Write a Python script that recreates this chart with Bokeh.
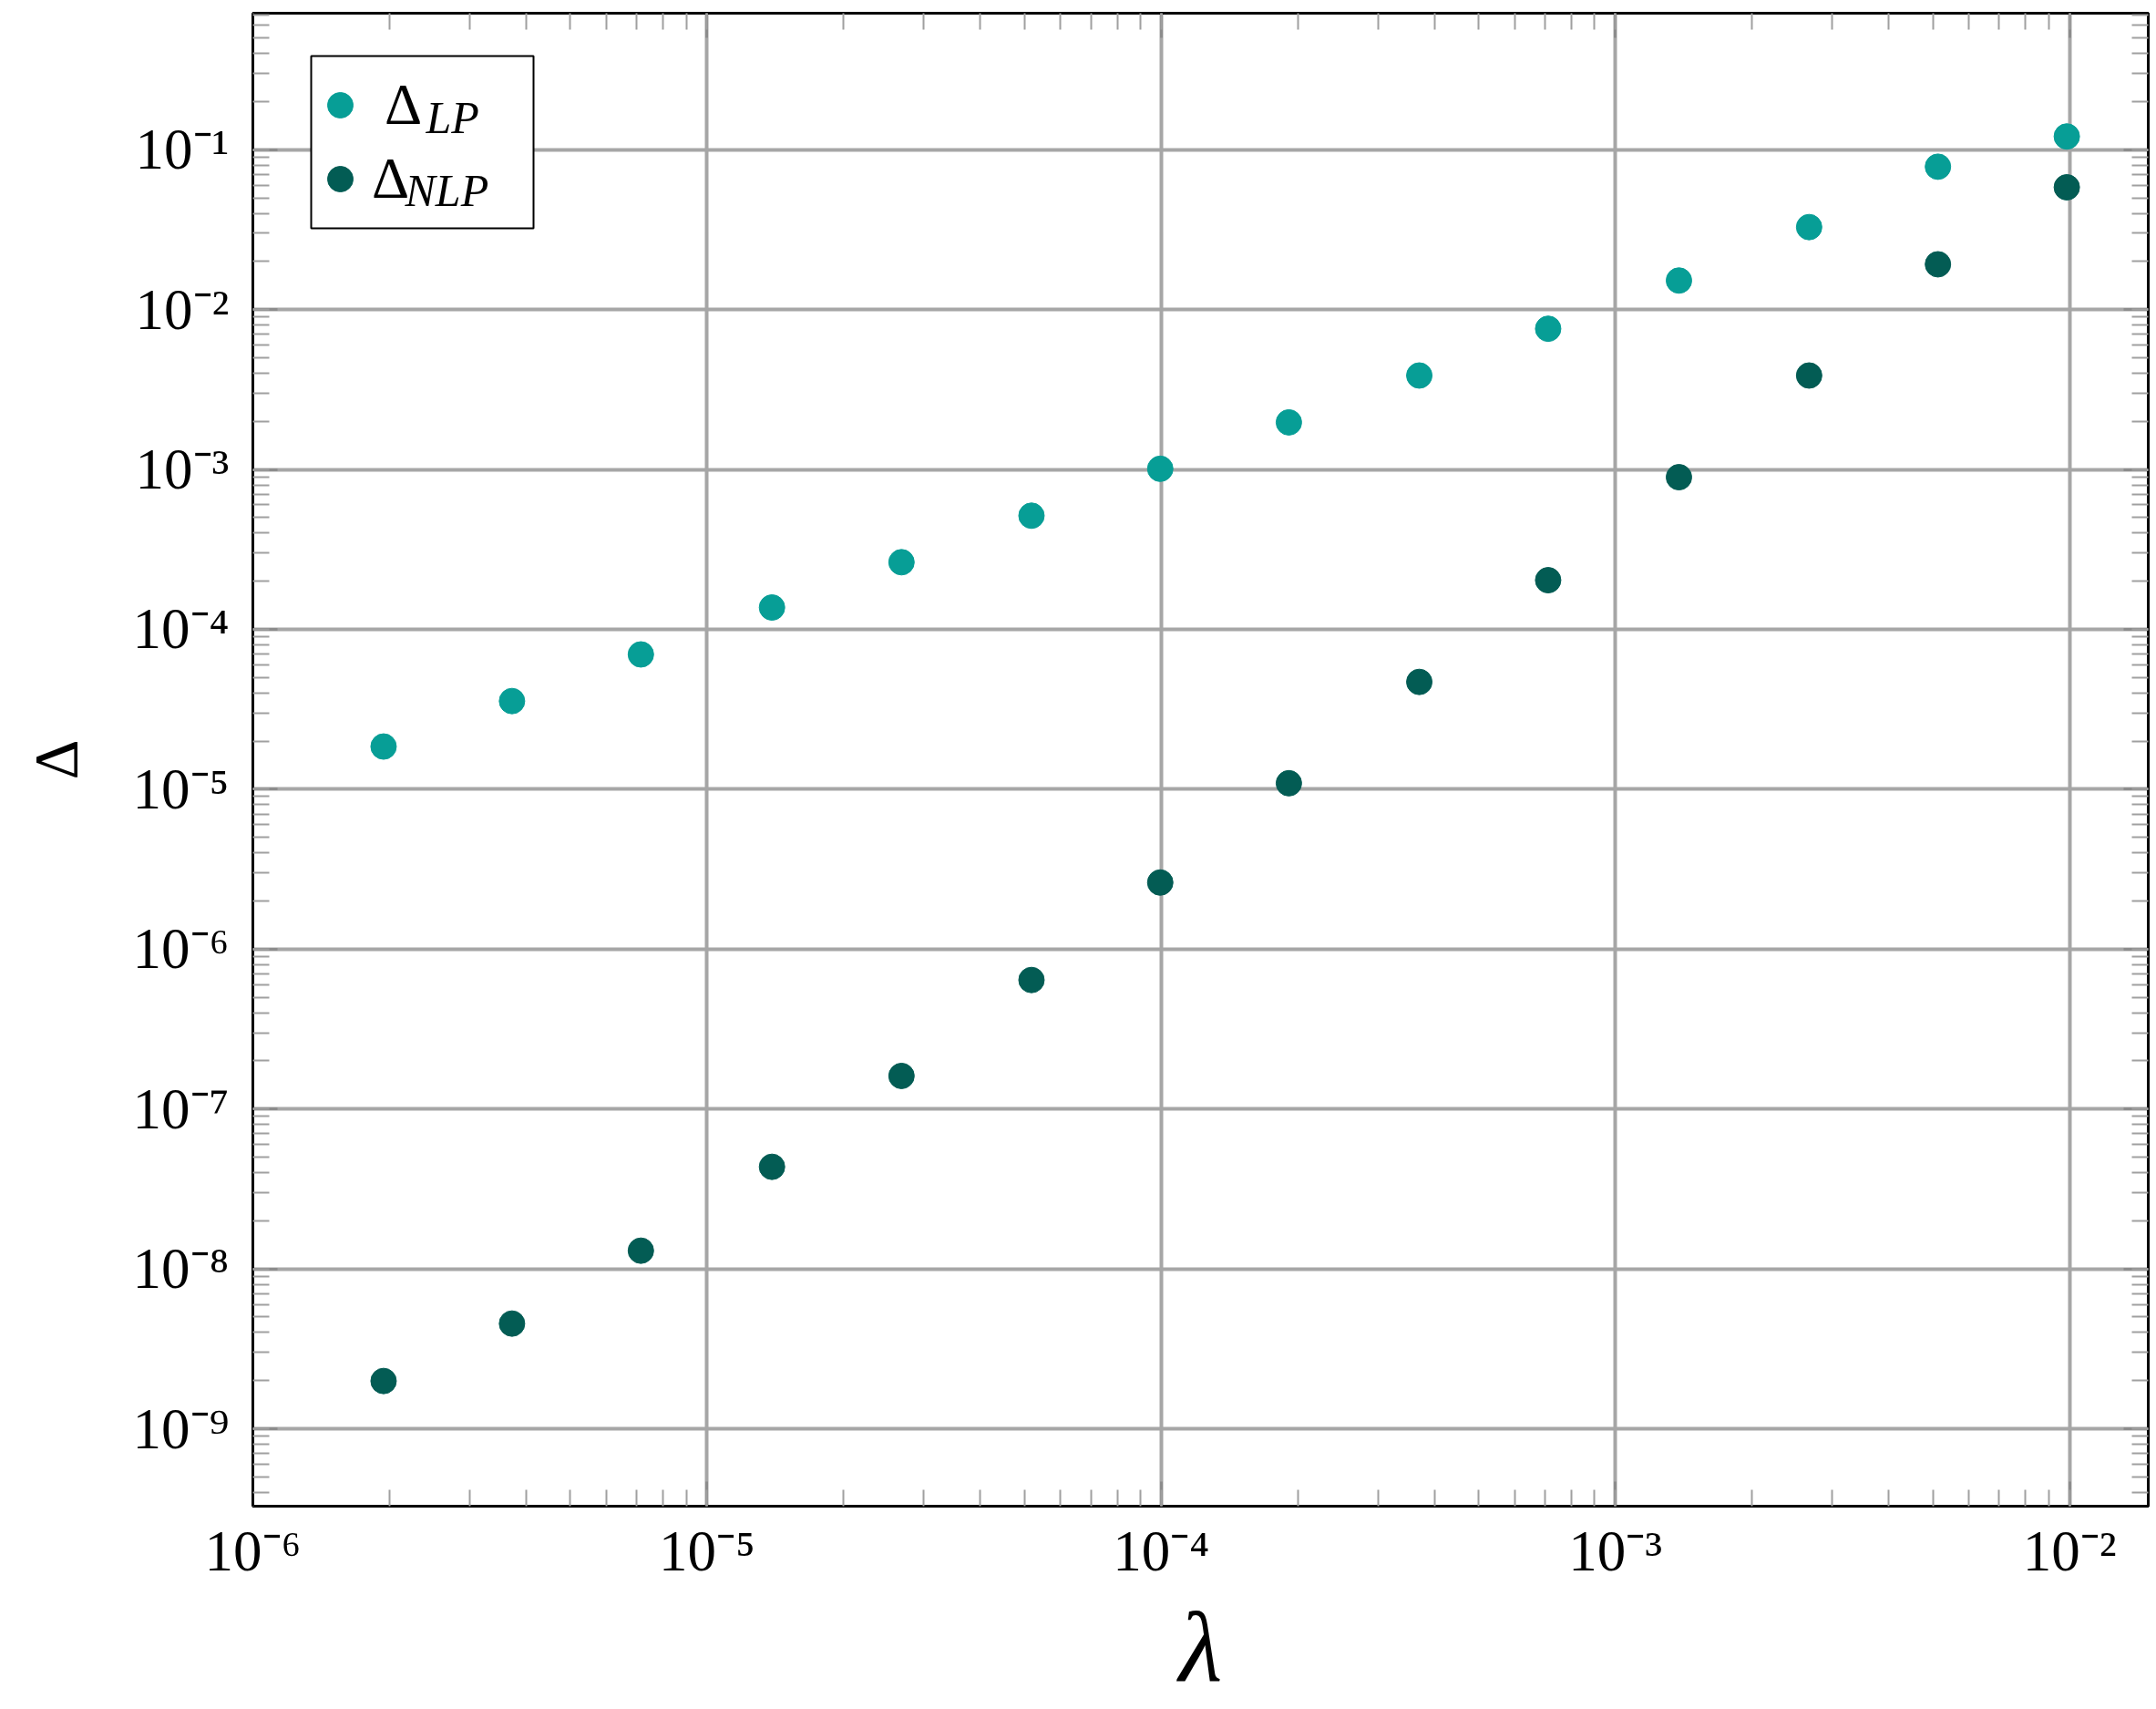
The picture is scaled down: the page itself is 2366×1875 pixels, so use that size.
from bokeh.plotting import figure
from bokeh.models import (LogAxis, LogTicker, CustomJSTickFormatter, Legend, LegendItem,
                          BoxAnnotation, Label, Range1d)
from bokeh.embed import file_html
from bokeh.resources import INLINE

# ---- data ----
lam = [1.94e-6, 3.72e-6, 7.15e-6, 1.39e-5, 2.68e-5, 5.18e-5, 9.95e-5,
       1.91e-4, 3.70e-4, 7.11e-4, 1.38e-3, 2.67e-3, 5.13e-3, 9.86e-3]
delta_lp = [1.85e-5, 3.56e-5, 6.97e-5, 1.37e-4, 2.63e-4, 5.14e-4, 1.01e-3,
            1.97e-3, 3.87e-3, 7.59e-3, 1.52e-2, 3.28e-2, 7.83e-2, 1.21e-1]
delta_nlp = [1.99e-9, 4.55e-9, 1.30e-8, 4.35e-8, 1.61e-7, 6.41e-7, 2.61e-6,
             1.09e-5, 4.69e-5, 2.03e-4, 8.95e-4, 3.87e-3, 1.92e-2, 5.82e-2]
series_names = ["LP", "NLP"]
x_label = "λ"
y_label = "Δ"

LP_COLOR = "#079E96"
NLP_COLOR = "#035C54"
FONT = "Liberation Serif"

W, H = 2360, 1870
p = figure(width=W, height=H, x_axis_type="log", y_axis_type="log",
           x_range=Range1d(1e-6, 1.49e-2), y_range=Range1d(3.28e-10, 0.714),
           output_backend="svg", toolbar_location=None,
           min_border_left=277, min_border_right=3, min_border_top=14,
           min_border_bottom=H - 1654)
p.background_fill_color = "white"
p.border_fill_color = "white"
p.outline_line_color = "black"
p.outline_line_width = 3

xt = LogTicker(desired_num_ticks=6, num_minor_ticks=10)
yt = LogTicker(desired_num_ticks=10, num_minor_ticks=10)

sup_code = """
const sup = {"-":"\\u207b","0":"\\u2070","1":"\\u00b9","2":"\\u00b2","3":"\\u00b3",
             "4":"\\u2074","5":"\\u2075","6":"\\u2076","7":"\\u2077","8":"\\u2078","9":"\\u2079"};
const e = Math.round(Math.log10(tick));
return "10" + String(e).split("").map(c => sup[c]).join("");
"""
fmt = CustomJSTickFormatter(code=sup_code)

xa = p.below[0]
ya = p.left[0]
xa.ticker = xt
ya.ticker = yt
xa.formatter = fmt
ya.formatter = fmt
p.xgrid.ticker = xt
p.ygrid.ticker = yt

top = LogAxis(ticker=xt, formatter=CustomJSTickFormatter(code="return ''"))
right = LogAxis(ticker=yt, formatter=CustomJSTickFormatter(code="return ''"))
p.add_layout(top, "above")
p.add_layout(right, "right")

for ax in [xa, ya, top, right]:
    ax.axis_line_color = "black"
    ax.axis_line_width = 3
    ax.major_tick_in = 27
    ax.major_tick_out = 0
    ax.major_tick_line_color = "#8c8c8c"
    ax.major_tick_line_width = 3
    ax.minor_tick_in = 18
    ax.minor_tick_out = 0
    ax.minor_tick_line_color = "#a0a0a0"
    ax.minor_tick_line_width = 2

for ax in [top, right]:
    ax.major_label_text_font_size = "1px"
    ax.major_label_standoff = 0

for ax in [xa, ya]:
    ax.major_label_text_font = FONT
    ax.major_label_text_font_size = "63px"
    ax.major_label_text_color = "black"

xa.major_label_standoff = 14
ya.major_label_standoff = 26

xa.axis_label = x_label
xa.axis_label_text_font = FONT
xa.axis_label_text_font_style = "italic"
xa.axis_label_text_font_size = "110px"
xa.axis_label_standoff = 6
xa.axis_label_text_color = "black"

ya.axis_label = y_label
ya.axis_label_text_font = FONT
ya.axis_label_text_font_style = "normal"
ya.axis_label_text_font_size = "68px"
ya.axis_label_standoff = 44
ya.axis_label_text_color = "black"

p.xgrid.grid_line_color = "#a6a6a6"
p.xgrid.grid_line_width = 4
p.ygrid.grid_line_color = "#a6a6a6"
p.ygrid.grid_line_width = 4

r_lp = p.scatter(lam, delta_lp, size=28, fill_color=LP_COLOR, line_color=LP_COLOR)
r_nlp = p.scatter(lam, delta_nlp, size=28, fill_color=NLP_COLOR, line_color=NLP_COLOR)

# legend frame (screen units relative to the frame)
box = BoxAnnotation(left=64, right=308, bottom=1402, top=1591,
                    left_units="screen", right_units="screen",
                    bottom_units="screen", top_units="screen",
                    fill_color="white", fill_alpha=1.0,
                    line_color="black", line_width=2, line_alpha=1.0)
p.add_layout(box)

def make_legend(item, vx, vy, standoff):
    lg = Legend(items=[item], location=(vx, vy), margin=0, padding=0,
                glyph_width=70, glyph_height=70, label_height=80,
                label_standoff=standoff, border_line_color=None,
                background_fill_alpha=0.0,
                label_text_font=FONT, label_text_font_size="64px",
                label_text_color="black")
    return lg

lg1 = make_legend(LegendItem(label=y_label, renderers=[r_lp]), 61, 1497, 14)
lg2 = make_legend(LegendItem(label=y_label, renderers=[r_nlp]), 61, 1416, -6)
p.add_layout(lg1)
p.add_layout(lg2)

sub1 = Label(x=190, y=1524, x_units="screen", y_units="screen", text=series_names[0],
             text_font=FONT, text_font_style="italic", text_font_size="50px",
             text_baseline="alphabetic", text_align="left", text_color="black")
sub2 = Label(x=167, y=1444, x_units="screen", y_units="screen", text=series_names[1],
             text_font=FONT, text_font_style="italic", text_font_size="50px",
             text_baseline="alphabetic", text_align="left", text_color="black")
p.add_layout(sub1)
p.add_layout(sub2)

open("out.html", "w").write(file_html(p, INLINE))
